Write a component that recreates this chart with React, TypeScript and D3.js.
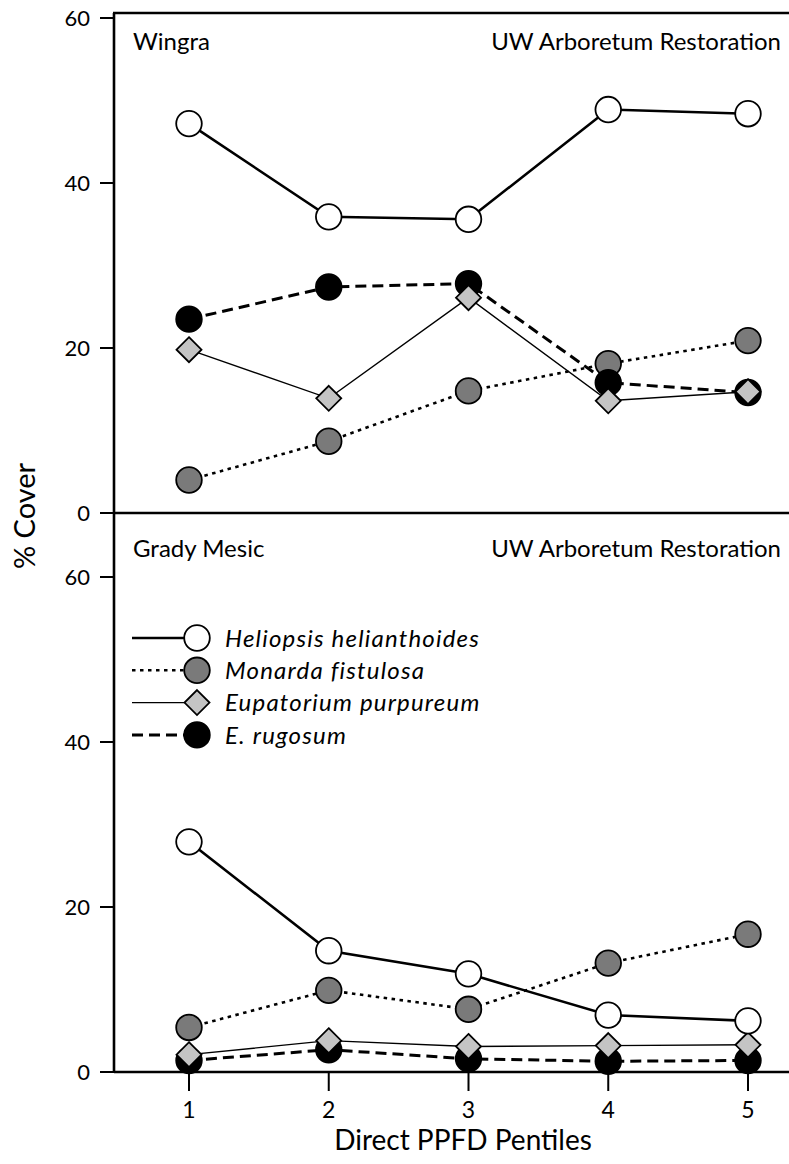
import React from "react";
import * as d3 from "d3";

// Direct PPFD pentiles (x categories)
const pentiles = [1, 2, 3, 4, 5];
const yTickValues = [0, 20, 40, 60];

// Wingra site, % cover per pentile
const wingraHeliopsis = [47.2, 35.9, 35.6, 48.9, 48.4];
const wingraMonarda = [4.0, 8.7, 14.8, 18.1, 20.9];
const wingraEupatorium = [19.8, 13.9, 26.1, 13.6, 14.7];
const wingraRugosum = [23.5, 27.4, 27.8, 15.8, 14.6];

// Grady Mesic site, % cover per pentile
const gradyHeliopsis = [27.9, 14.7, 11.9, 6.9, 6.2];
const gradyMonarda = [5.4, 9.9, 7.6, 13.2, 16.7];
const gradyEupatorium = [2.1, 3.8, 3.1, 3.2, 3.3];
const gradyRugosum = [1.4, 2.7, 1.6, 1.3, 1.4];

const speciesNames = [
  "Heliopsis helianthoides",
  "Monarda fistulosa",
  "Eupatorium purpureum",
  "E. rugosum",
];

type Style = {
  marker: "circle" | "diamond";
  fill: string;
  width: number;
  dash: string;
};

const styles: Record<string, Style> = {
  "Heliopsis helianthoides": { marker: "circle", fill: "#ffffff", width: 2.6, dash: "" },
  "Monarda fistulosa": { marker: "circle", fill: "#7a7a7a", width: 2.6, dash: "3.5,4.5" },
  "Eupatorium purpureum": { marker: "diamond", fill: "#c4c4c4", width: 1.4, dash: "" },
  "E. rugosum": { marker: "circle", fill: "#000000", width: 3, dash: "11,6" },
};

const FONT = "Lato, 'Open Sans', sans-serif";
const W = 789;
const H = 1164;

const x = d3.scaleLinear().domain([1, 5]).range([189, 748]);
const yTop = d3.scaleLinear().domain([0, 60]).range([513, 18]);
const yBot = d3.scaleLinear().domain([0, 60]).range([1072, 577]);
const axisX = 114;

function Marker({ kind, cx, cy, fill }: { kind: string; cx: number; cy: number; fill: string }) {
  if (kind === "diamond") {
    const s = 12.5;
    return (
      <path
        d={`M${cx},${cy - s}L${cx + s},${cy}L${cx},${cy + s}L${cx - s},${cy}Z`}
        fill={fill}
        stroke="#000"
        strokeWidth={1.8}
        strokeLinejoin="miter"
      />
    );
  }
  return <circle cx={cx} cy={cy} r={12.8} fill={fill} stroke="#000" strokeWidth={1.8} />;
}

function Series({
  name,
  values,
  y,
}: {
  name: string;
  values: number[];
  y: d3.ScaleLinear<number, number>;
}) {
  const st = styles[name];
  const line = d3
    .line<number>()
    .x((_, i) => x(pentiles[i]))
    .y((v) => y(v));
  return (
    <g>
      <path
        d={line(values) || ""}
        fill="none"
        stroke="#000"
        strokeWidth={st.width}
        strokeDasharray={st.dash || undefined}
      />
      {values.map((v, i) => (
        <Marker key={i} kind={st.marker} cx={x(pentiles[i])} cy={y(v)} fill={st.fill} />
      ))}
    </g>
  );
}

function Panel({
  y,
  data,
  site,
  titleY,
}: {
  y: d3.ScaleLinear<number, number>;
  data: number[][];
  site: string;
  titleY: number;
}) {
  // drawing order: Monarda, E. rugosum, Eupatorium, Heliopsis
  const order = [1, 3, 2, 0];
  return (
    <g>
      {yTickValues.map((t) => (
        <g key={t}>
          <line x1={axisX - 14} x2={axisX} y1={y(t)} y2={y(t)} stroke="#000" strokeWidth={2} />
          <text
            x={axisX - 24}
            y={y(t)}
            dy="0.36em"
            textAnchor="end"
            fontFamily={FONT}
            fontSize={22}
          >
            {t}
          </text>
        </g>
      ))}
      <text x={133} y={titleY} fontFamily={FONT} fontSize={24}>
        {site}
      </text>
      <text x={781} y={titleY} textAnchor="end" fontFamily={FONT} fontSize={24}>
        UW Arboretum Restoration
      </text>
      {order.map((k) => (
        <Series key={k} name={speciesNames[k]} values={data[k]} y={y} />
      ))}
    </g>
  );
}

export default function App() {
  const legendY0 = 638;
  const legendStep = 32.3;
  return (
    <svg
      width={W}
      height={H}
      viewBox={`0 0 ${W} ${H}`}
      style={{ position: "absolute", left: 0, top: 0, background: "#fff" }}
    >
      <rect width={W} height={H} fill="#fff" />

      {/* frame */}
      <line x1={axisX} x2={axisX} y1={13} y2={1073} stroke="#000" strokeWidth={2.6} />
      <line x1={axisX - 1} x2={W} y1={13} y2={13} stroke="#000" strokeWidth={2.6} />
      <line x1={axisX} x2={W} y1={yTop(0)} y2={yTop(0)} stroke="#000" strokeWidth={2.6} />
      <line x1={axisX} x2={W} y1={yBot(0)} y2={yBot(0)} stroke="#000" strokeWidth={2.6} />

      <Panel
        y={yTop}
        site="Wingra"
        titleY={50}
        data={[wingraHeliopsis, wingraMonarda, wingraEupatorium, wingraRugosum]}
      />
      <Panel
        y={yBot}
        site="Grady Mesic"
        titleY={557}
        data={[gradyHeliopsis, gradyMonarda, gradyEupatorium, gradyRugosum]}
      />

      {/* x axis ticks */}
      {pentiles.map((p) => (
        <g key={p}>
          <line x1={x(p)} x2={x(p)} y1={yBot(0)} y2={yBot(0) + 19} stroke="#000" strokeWidth={2} />
          <text x={x(p)} y={1118} textAnchor="middle" fontFamily={FONT} fontSize={23}>
            {p}
          </text>
        </g>
      ))}

      <text x={463} y={1150} textAnchor="middle" fontFamily={FONT} fontSize={28}>
        Direct PPFD Pentiles
      </text>
      <text
        transform={`translate(35,516) rotate(-90)`}
        textAnchor="middle"
        fontFamily={FONT}
        fontSize={29}
      >
        % Cover
      </text>

      {/* legend */}
      {speciesNames.map((name, i) => {
        const st = styles[name];
        const ly = legendY0 + i * legendStep;
        return (
          <g key={name}>
            <line
              x1={132}
              x2={190}
              y1={ly}
              y2={ly}
              stroke="#000"
              strokeWidth={st.width}
              strokeDasharray={st.dash || undefined}
            />
            <Marker kind={st.marker} cx={197} cy={ly} fill={st.fill} />
            <text
              x={225}
              y={ly}
              dy="0.36em"
              fontFamily={FONT}
              fontStyle="italic"
              fontSize={24}
              letterSpacing={1.2}
            >
              {name}
            </text>
          </g>
        );
      })}
    </svg>
  );
}
